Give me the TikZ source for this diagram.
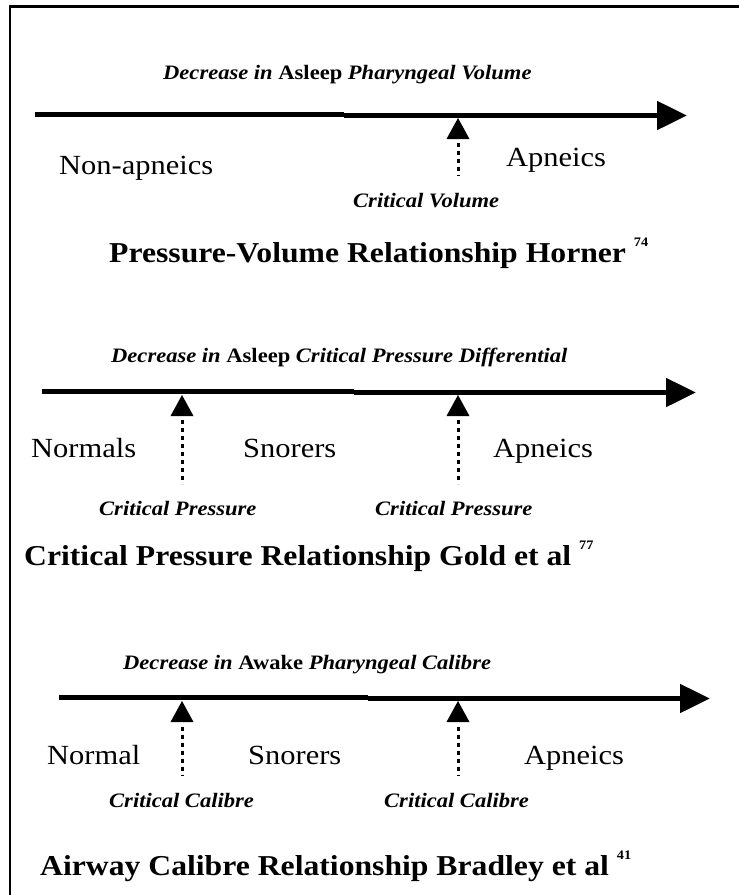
\documentclass[tikz,border=0pt]{standalone}
\usepackage{fontspec}
\setmainfont{Liberation Serif}[FakeStretch=1.1]
\usetikzlibrary{arrows.meta}
\newcommand{\supnum}[1]{\raisebox{1.15ex}{\fontsize{13}{15}\selectfont\bfseries #1}}
\begin{document}
\begin{tikzpicture}[x=1pt,y=-1pt,
  captxt/.style={anchor=base west, inner sep=0pt, font=\fontsize{20.5}{24}\selectfont},
  grouptxt/.style={anchor=base west, inner sep=0pt, font=\fontsize{27.7}{32}\selectfont},
  crittxt/.style={anchor=base west, inner sep=0pt, font=\fontsize{20.5}{24}\selectfont\bfseries\itshape},
  titletxt/.style={anchor=base west, inner sep=0pt, font=\fontsize{28.8}{34}\selectfont\bfseries},
  axisA/.style={line width=5.8pt},
  axisB/.style={line width=5pt, -{Triangle[length=30pt,width=28pt]}},
  dotline/.style={line width=3pt, dash pattern=on 4pt off 4pt},
  headfill/.style={fill=black}
]
\useasboundingbox (0,0) rectangle (739,895);
\fill[white] (0,0) rectangle (739,895);
% frame
\coordinate (fr1) at (739,6.5);
\coordinate (fr2) at (10,6.5);
\coordinate (fr3) at (10,895);
\draw[line width=2.6pt] (fr1) -- (fr2) -- (fr3);

% ---------------- Panel 1 ----------------
\node[captxt] (c1) at (163,79) {{\bfseries\itshape Decrease in} {\bfseries Asleep} {\bfseries\itshape Pharyngeal Volume}};
\coordinate (a1s) at (35,114.5);
\coordinate (a1m) at (344,114.5);
\coordinate (a1n) at (344,115.5);
\coordinate (a1e) at (687,115.5);
\draw[axisA] (a1s) -- (a1m);
\draw[axisB] (a1n) -- (a1e);
\coordinate (p1t) at (458,118);
\fill[headfill] (p1t) -- ++(-11.5,21) -- ++(23,0) -- cycle;
\coordinate (p1a) at (458,143);
\coordinate (p1b) at (458,176);
\draw[dotline] (p1a) -- (p1b);
\node[grouptxt] (g11) at (59,174) {Non-apneics};
\node[grouptxt] (g12) at (506,166) {Apneics};
\node[crittxt] (k11) at (353,207) {Critical Volume};
\node[titletxt] (t1) at (109,262) {Pressure-Volume Relationship Horner \supnum{74}};

% ---------------- Panel 2 ----------------
\node[captxt] (c2) at (111,362) {{\bfseries\itshape Decrease in} {\bfseries Asleep} {\bfseries\itshape Critical Pressure Differential}};
\coordinate (a2s) at (42,391.5);
\coordinate (a2m) at (354,391.5);
\coordinate (a2n) at (354,392.5);
\coordinate (a2e) at (696,392.5);
\draw[axisA] (a2s) -- (a2m);
\draw[axisB] (a2n) -- (a2e);
\coordinate (p21t) at (182,395);
\fill[headfill] (p21t) -- ++(-11.5,21) -- ++(23,0) -- cycle;
\coordinate (p21a) at (182,420);
\coordinate (p21b) at (182,484);
\draw[dotline] (p21a) -- (p21b);
\coordinate (p22t) at (458,395);
\fill[headfill] (p22t) -- ++(-11.5,21) -- ++(23,0) -- cycle;
\coordinate (p22a) at (458,420);
\coordinate (p22b) at (458,484);
\draw[dotline] (p22a) -- (p22b);
\node[grouptxt] (g21) at (31,457) {Normals};
\node[grouptxt] (g22) at (243,457) {Snorers};
\node[grouptxt] (g23) at (493,457) {Apneics};
\node[crittxt] (k21) at (99,515) {Critical Pressure};
\node[crittxt] (k22) at (375,515) {Critical Pressure};
\node[titletxt] (t2) at (24,565) {Critical Pressure Relationship Gold et al \supnum{77}};

% ---------------- Panel 3 ----------------
\node[captxt] (c3) at (123,669) {{\bfseries\itshape Decrease in} {\bfseries Awake} {\bfseries\itshape Pharyngeal Calibre}};
\coordinate (a3s) at (59,697.5);
\coordinate (a3m) at (368,697.5);
\coordinate (a3n) at (368,698.5);
\coordinate (a3e) at (710,698.5);
\draw[axisA] (a3s) -- (a3m);
\draw[axisB] (a3n) -- (a3e);
\coordinate (p31t) at (182,701);
\fill[headfill] (p31t) -- ++(-11.5,21) -- ++(23,0) -- cycle;
\coordinate (p31a) at (182,727);
\coordinate (p31b) at (182,776);
\draw[dotline] (p31a) -- (p31b);
\coordinate (p32t) at (458,701);
\fill[headfill] (p32t) -- ++(-11.5,21) -- ++(23,0) -- cycle;
\coordinate (p32a) at (458,727);
\coordinate (p32b) at (458,776);
\draw[dotline] (p32a) -- (p32b);
\node[grouptxt] (g31) at (47,764) {Normal};
\node[grouptxt] (g32) at (248,764) {Snorers};
\node[grouptxt] (g33) at (524,764) {Apneics};
\node[crittxt] (k31) at (109,807) {Critical Calibre};
\node[crittxt] (k32) at (384,807) {Critical Calibre};
\node[titletxt] (t3) at (40,875) {Airway Calibre Relationship Bradley et al \supnum{41}};
\end{tikzpicture}
\end{document}
